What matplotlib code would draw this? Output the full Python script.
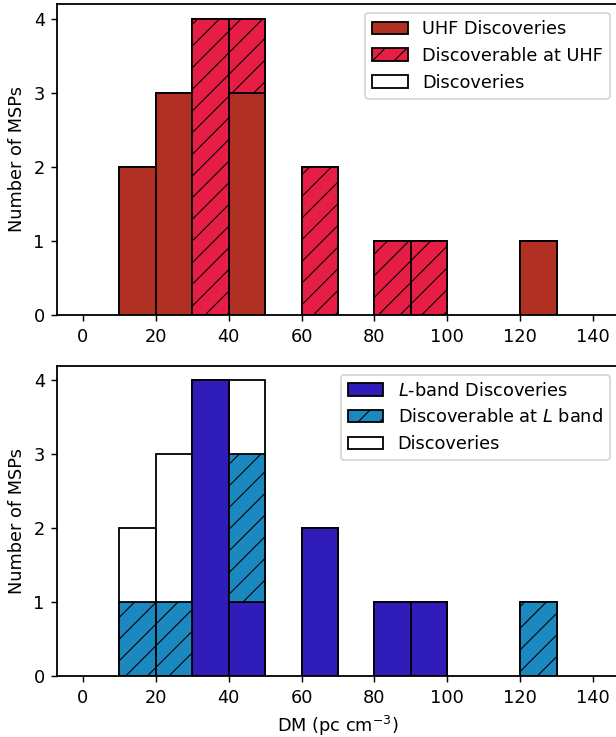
import numpy as np
from matplotlib import pyplot as plt

plt.rcParams['font.size'] = 9.8
plt.rcParams['hatch.linewidth'] = 0.6
plt.rcParams['axes.linewidth'] = 1.0

# bins of 10 pc cm^-3, edges 0..140
bins = np.arange(0, 150, 10)
lefts = bins[:-1] + 5

all_disc = [0, 2, 3, 4, 4, 0, 2, 0, 1, 1, 0, 0, 1, 0]
uhf_disc = [0, 2, 3, 0, 3, 0, 0, 0, 0, 0, 0, 0, 1, 0]
uhf_able = [0, 0, 0, 4, 1, 0, 2, 0, 1, 1, 0, 0, 0, 0]
l_disc = [0, 0, 0, 4, 1, 0, 2, 0, 1, 1, 0, 0, 0, 0]
l_able = [0, 1, 1, 0, 2, 0, 0, 0, 0, 0, 0, 0, 1, 0]

fig = plt.figure(figsize=(616 / 130, 737 / 130), dpi=130)
ax1 = fig.add_axes([0.0933, 0.5726, 0.9107, 0.422])
ax2 = fig.add_axes([0.0933, 0.0828, 0.9107, 0.421])


def panel(ax, disc, able, c1, c2, lab1, lab2):
    _, _, p0 = ax.hist(lefts, bins=bins, weights=all_disc, color='white',
                       edgecolor='black', label='Discoveries')
    _, _, p1 = ax.hist(lefts, bins=bins, weights=disc, color=c1,
                       edgecolor='black', label=lab1)
    _, _, p2 = ax.hist(lefts, bins=bins, weights=able, bottom=disc, color=c2,
                       edgecolor='black', hatch='//', label=lab2)
    # empty bins would leave a line on the axis
    for pp in (p0, p1, p2):
        for p in pp[1:]:
            if p.get_height() == 0:
                p.set_visible(False)
    ax.set_xlim(-7, 147)
    ax.set_ylim(0, 4.2)
    ax.set_xticks(range(0, 150, 20))
    ax.set_yticks(range(0, 5))
    ax.set_ylabel('Number of MSPs')
    ax.legend(handles=[p1[0], p2[0], p0[0]], loc='upper right')
    for pp in (p0, p1, p2):
        if pp[0].get_height() == 0:
            pp[0].set_edgecolor('none')
            pp[0].set_facecolor('none')


panel(ax1, uhf_disc, uhf_able, '#b03024', '#e61e46',
      'UHF Discoveries', 'Discoverable at UHF')
panel(ax2, l_disc, l_able, '#301cb8', '#1c88c0',
      '$L$-band Discoveries', 'Discoverable at $L$ band')
ax2.set_xlabel('DM (pc cm$^{-3}$)')

plt.savefig('out.png', dpi=130)
